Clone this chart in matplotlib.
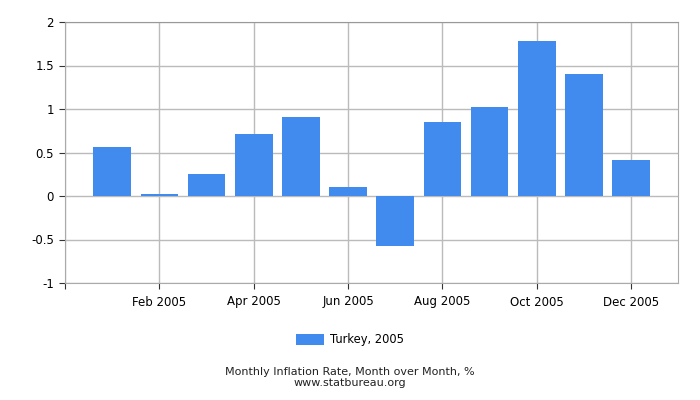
import numpy as np
import matplotlib.pyplot as plt

months = ["Jan", "Feb", "Mar", "Apr", "May", "Jun",
          "Jul", "Aug", "Sep", "Oct", "Nov", "Dec"]
rates = [0.56, 0.02, 0.25, 0.71, 0.91, 0.10,
         -0.57, 0.85, 1.02, 1.78, 1.40, 0.41]
tick_labels = ["Feb 2005", "Apr 2005", "Jun 2005", "Aug 2005", "Oct 2005", "Dec 2005"]

fig = plt.figure(figsize=(7, 4), dpi=100)
ax = fig.add_axes([0.093, 0.2925, 0.876, 0.6525])

x = np.arange(1, len(months) + 1)
ax.bar(x, rates, width=0.8, color="#428bee", zorder=3, label="Turkey, 2005")

ax.set_xlim(0, 13)
ax.set_ylim(-1, 2)
ax.set_yticks([-1, -0.5, 0, 0.5, 1, 1.5, 2])
ax.set_yticklabels(["-1", "-0.5", "0", "0.5", "1", "1.5", "2"])
ax.set_xticks([0, 2, 4, 6, 8, 10, 12])
ax.set_xticklabels([""] + tick_labels)
ax.grid(True, color="#bbbbbb", linewidth=1, zorder=0)
ax.tick_params(axis="both", labelsize=8.5, length=4, color="#333333", pad=4)
ax.tick_params(axis="x", pad=5)
for s in ax.spines.values():
    s.set_color("#aaaaaa")
ax.spines["top"].set_color("#999999")

fig.legend(loc="center", bbox_to_anchor=(0.5, 0.15), frameon=False,
           fontsize=8.3, handlelength=2.4, handleheight=1.0, handletextpad=0.5)
fig.text(0.5, 0.062, "Monthly Inflation Rate, Month over Month, %",
         ha="center", fontsize=8, color="#222222")
fig.text(0.5, 0.035, "www.statbureau.org", ha="center", fontsize=8, color="#222222")

fig.savefig("out.png", dpi=100)
